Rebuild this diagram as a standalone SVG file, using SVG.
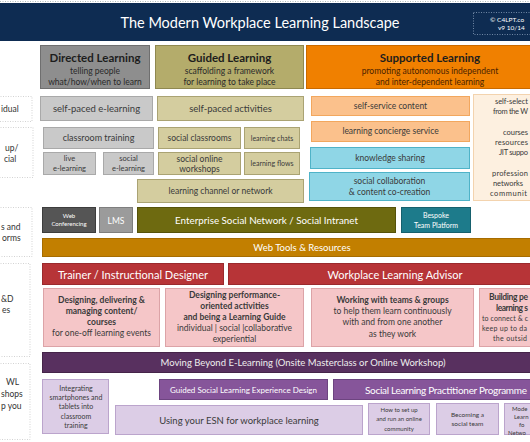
<svg xmlns="http://www.w3.org/2000/svg" width="530" height="442" viewBox="0 0 530 442">
<style>
text{font-family:Lato,"Liberation Sans",sans-serif;}
.lbl{fill:none;stroke:#c8c8c8;stroke-width:0.8;stroke-dasharray:1,1.5;}
.lt{font-size:8.5px;fill:#333;}
.gr{fill:#c9c9c9;stroke:#a9a9a9;stroke-width:1;}
.ol{fill:#d4cd9f;stroke:#aaa373;stroke-width:1;}
.or{fill:#fbc18c;stroke:#f2a75e;stroke-width:1;}
.bl{fill:#8fd6e6;stroke:#4fb3c8;stroke-width:1;}
.pk{fill:#f5c6c8;stroke:#dca3a7;stroke-width:1;}
.lp{fill:#dccde6;stroke:#bba4cc;stroke-width:1;}
.t{fill:#3a3a3a;text-anchor:middle;}
.w{fill:#fff;text-anchor:middle;}
.b{font-weight:bold;}
</style>
<rect width="530" height="442" fill="#fff"/>
<line x1="0" y1="1.5" x2="530" y2="1.5" stroke="#9aa" stroke-dasharray="1,1.5" stroke-width="0.8"/>
<g id="header">
<rect x="0" y="3" width="530" height="38" fill="#0e2c52"/>
<text x="260" y="28" class="w" style="font-size:14.5px">The Modern Workplace Learning Landscape</text>
<rect x="473.5" y="12.5" width="60" height="22" fill="none" stroke="#8aa0bb" stroke-width="0.8" stroke-dasharray="1,1.5"/>
<text x="490" y="22" style="font-size:6.5px;fill:#fff">© C4LPT.co</text>
<text x="498" y="30" style="font-size:6.5px;fill:#fff">v9 10/14</text>
</g>
<g id="col-directed">
<rect x="40.5" y="45.5" width="109" height="43" fill="#8e8e8e" stroke="#6f6f6f"/>
<text x="95" y="62" class="t b" style="font-size:11.5px;fill:#1d1d1d">Directed Learning</text>
<text x="95" y="74" class="t" style="font-size:8.5px;fill:#2a2a2a">telling people</text>
<text x="95" y="85" class="t" style="font-size:8.5px;fill:#2a2a2a">what/how/when to learn</text>
</g>
<g id="col-guided">
<rect x="155.5" y="45.5" width="148" height="43" fill="#b4ac6b" stroke="#8f8850"/>
<text x="229.5" y="62" class="t b" style="font-size:11.5px;fill:#1d1d1d">Guided Learning</text>
<text x="229.5" y="74" class="t" style="font-size:8.5px;fill:#2a2a2a">scaffolding a framework</text>
<text x="229.5" y="85" class="t" style="font-size:8.5px;fill:#2a2a2a">for learning to take place</text>
</g>
<g id="col-supported">
<rect x="306.5" y="45.5" width="230" height="43" fill="#f08000" stroke="#c96a00"/>
<text x="430" y="62" class="t b" style="font-size:11.5px;fill:#1d1d1d">Supported Learning</text>
<text x="430" y="74" class="t" style="font-size:8.5px;fill:#4a2200">promoting autonomous independent</text>
<text x="430" y="85" class="t" style="font-size:8.5px;fill:#4a2200">and inter-dependent learning</text>
</g>
<g id="row-labels">
<rect class="lbl" x="-2" y="96.5" width="34" height="25"/>
<text x="1" y="112" class="lt">idual</text>
<rect class="lbl" x="-2" y="127.5" width="35" height="50"/>
<text x="5" y="151" class="lt">up/</text>
<text x="4" y="162" class="lt">cial</text>
<rect class="lbl" x="-2" y="207.5" width="34" height="49"/>
<text x="1" y="230" class="lt">s and</text>
<text x="2" y="241" class="lt">orms</text>
<rect class="lbl" x="-2" y="263.5" width="32" height="93"/>
<text x="1" y="302" class="lt">&amp;D</text>
<text x="2" y="313" class="lt">es</text>
<rect class="lbl" x="-2" y="363.5" width="32" height="76"/>
<text x="6" y="385" class="lt">WL</text>
<text x="1" y="397" class="lt">shops</text>
<text x="1" y="409" class="lt">p you</text>
</g>
<g id="n-selfpaced-elearning"><rect class="gr" x="40.5" y="96.5" width="112" height="24"/><text x="96.5" y="112" class="t" style="font-size:9.5px">self-paced e-learning</text></g>
<g id="n-classroom"><rect class="gr" x="43.5" y="127.5" width="110" height="21"/><text x="98.5" y="141" class="t" style="font-size:9px">classroom training</text></g>
<g id="n-live"><rect class="gr" x="43.5" y="152.5" width="52" height="22"/><text x="69.5" y="161" class="t" style="font-size:7.5px">live</text><text x="69.5" y="171" class="t" style="font-size:7.5px">e-learning</text></g>
<g id="n-social-el"><rect class="gr" x="103.5" y="152.5" width="50" height="22"/><text x="128.5" y="161" class="t" style="font-size:7.5px">social</text><text x="128.5" y="171" class="t" style="font-size:7.5px">e-learning</text></g>
<g id="n-selfpaced-act"><rect class="ol" x="157.5" y="96.5" width="146" height="24"/><text x="230.5" y="112" class="t" style="font-size:9.5px">self-paced activities</text></g>
<g id="n-social-classrooms"><rect class="ol" x="158.5" y="127.5" width="82" height="21"/><text x="199.5" y="141" class="t" style="font-size:8.5px">social classrooms</text></g>
<g id="n-chats"><rect class="ol" x="244.5" y="127.5" width="55" height="21"/><text x="272" y="141" class="t" style="font-size:7px">learning chats</text></g>
<g id="n-workshops"><rect class="ol" x="158.5" y="152.5" width="82" height="22"/><text x="199.5" y="162" class="t" style="font-size:8.5px">social  online</text><text x="199.5" y="172" class="t" style="font-size:8.5px">workshops</text></g>
<g id="n-flows"><rect class="ol" x="244.5" y="152.5" width="55" height="22"/><text x="272" y="166" class="t" style="font-size:7px">learning flows</text></g>
<g id="n-channel"><rect class="ol" x="137.5" y="179.5" width="166" height="23"/><text x="220.5" y="194" class="t" style="font-size:8.5px">learning channel or network</text></g>
<g id="n-selfservice"><rect class="or" x="311.5" y="96.5" width="158" height="19"/><text x="390.5" y="109" class="t" style="font-size:8.5px">self-service content</text></g>
<g id="n-concierge"><rect class="or" x="311.5" y="121.5" width="158" height="20"/><text x="390.5" y="134" class="t" style="font-size:8.5px">learning concierge service</text></g>
<g id="n-knowledge"><rect class="bl" x="310.5" y="147.5" width="159" height="21"/><text x="390" y="161" class="t" style="font-size:8.5px">knowledge sharing</text></g>
<g id="n-collab"><rect class="bl" x="309.5" y="172.5" width="160" height="28"/><text x="389.5" y="184" class="t" style="font-size:8.5px">social collaboration</text><text x="389.5" y="195" class="t" style="font-size:8.5px">&amp; content co-creation</text></g>
<g id="n-selfselect">
<rect x="473.5" y="94.5" width="70" height="106" fill="#fdf0e0" stroke="#f3d3ae"/>
<g style="font-size:7.5px;fill:#3a3a3a">
<text x="495" y="104" textLength="33">self-select</text>
<text x="493" y="114" textLength="35">from the W</text>
<text x="503" y="135" textLength="25">courses</text>
<text x="495" y="145" textLength="33">resources</text>
<text x="499" y="155" textLength="29">JIT suppo</text>
<text x="492" y="176" textLength="36">profession</text>
<text x="493" y="186" textLength="30">networks</text>
<text x="490" y="196" textLength="37">communit</text>
</g>
</g>
<g id="n-webconf"><rect x="42.5" y="207.5" width="53" height="25" fill="#555" stroke="#3d3d3d"/><text x="69" y="218" class="w" style="font-size:6px">Web</text><text x="69" y="226" class="w" style="font-size:6px">Conferencing</text></g>
<g id="n-lms"><rect x="99.5" y="207.5" width="33" height="25" fill="#9b9b9b" stroke="#7e7e7e"/><text x="116" y="224" class="w" style="font-size:8.5px">LMS</text></g>
<g id="n-esn"><rect x="137.5" y="207.5" width="258" height="25" fill="#6e6a10" stroke="#55520a"/><text x="266.5" y="224" class="w" style="font-size:9.8px">Enterprise Social Network / Social Intranet</text></g>
<g id="n-bespoke"><rect x="401.5" y="207.5" width="69" height="25" fill="#1d7b8b" stroke="#16606d"/><text x="436" y="218" class="w" style="font-size:7px">Bespoke</text><text x="436" y="228" class="w" style="font-size:7px">Team Platform</text></g>
<g id="n-webtools"><rect x="42.5" y="238.5" width="492" height="18" fill="#c27f00" stroke="#a66c00"/><text x="302" y="251" class="w" style="font-size:9.5px">Web Tools &amp; Resources</text></g>
<g id="n-trainer"><rect x="42.5" y="263.5" width="181" height="21" fill="#b73437" stroke="#9a2a2d"/><text x="133" y="278.5" class="w" style="font-size:11px">Trainer / Instructional Designer</text></g>
<g id="n-advisor"><rect x="228.5" y="263.5" width="306" height="21" fill="#b73437" stroke="#9a2a2d"/><text x="395" y="278.5" class="w" style="font-size:11px">Workplace Learning Advisor</text></g>
<g id="n-designing"><rect class="pk" x="43.5" y="288.5" width="116" height="58"/>
<text x="101.5" y="303" class="t b" style="font-size:8.5px">Designing, delivering &amp;</text>
<text x="101.5" y="314" class="t b" style="font-size:8.5px">managing content/</text>
<text x="101.5" y="325" class="t b" style="font-size:8.5px">courses</text>
<text x="101.5" y="336" class="t" style="font-size:8.5px">for one-off learning events</text></g>
<g id="n-perf"><rect class="pk" x="165.5" y="288.5" width="138" height="58"/>
<text x="234.5" y="298" class="t b" style="font-size:8.5px">Designing performance-</text>
<text x="234.5" y="309" class="t b" style="font-size:8.5px">oriented activities</text>
<text x="234.5" y="320" class="t b" style="font-size:8.5px">and being a Learning Guide</text>
<text x="234.5" y="331" class="t" style="font-size:8.5px">individual | social |collaborative</text>
<text x="234.5" y="342" class="t" style="font-size:8.5px">experiential</text></g>
<g id="n-teams"><rect class="pk" x="311.5" y="288.5" width="162" height="58"/>
<text x="392.5" y="303" class="t b" style="font-size:8.5px">Working with teams &amp; groups</text>
<text x="392.5" y="314" class="t" style="font-size:8.5px">to help them learn continuously</text>
<text x="392.5" y="325" class="t" style="font-size:8.5px">with and from one another</text>
<text x="392.5" y="337" class="t" style="font-size:8.5px">as they work</text></g>
<g id="n-building"><rect class="pk" x="479.5" y="288.5" width="60" height="58"/>
<text x="489" y="300" class="b" style="font-size:8.5px;fill:#3a3a3a" textLength="39">Building pe</text>
<text x="496" y="311" class="b" style="font-size:8.5px;fill:#3a3a3a" textLength="32">learning s</text>
<text x="482" y="321" style="font-size:7px;fill:#3a3a3a" textLength="46">to connect &amp; c</text>
<text x="482" y="331" style="font-size:7px;fill:#3a3a3a" textLength="45">keep up to da</text>
<text x="493" y="341" style="font-size:7px;fill:#3a3a3a" textLength="34">the outsid</text></g>
<g id="n-moving"><rect x="42.5" y="352.5" width="492" height="20" fill="#58305f" stroke="#452449"/><text x="303" y="366" class="w" style="font-size:9.5px;fill:#eee">Moving Beyond E-Learning  (Onsite Masterclass or Online Workshop)</text></g>
<g id="n-integrating"><rect class="lp" x="42.5" y="379.5" width="66" height="54"/>
<g class="t" style="font-size:7px"><text x="76" y="391">Integrating</text><text x="76" y="400">smartphones and</text><text x="76" y="409">tablets into</text><text x="76" y="419">classroom</text><text x="76" y="428">training</text></g></g>
<g id="n-guided-design"><rect x="159.5" y="379.5" width="168" height="20" fill="#86559a" stroke="#6d4480"/><text x="243.5" y="392.5" class="w" style="font-size:8px">Guided Social Learning Experience Design</text></g>
<g id="n-practitioner"><rect x="333.5" y="379.5" width="201" height="20" fill="#86559a" stroke="#6d4480"/><text x="365" y="394" style="font-size:10px;fill:#fff" textLength="162">Social Learning Practitioner Programme</text></g>
<g id="n-esn-learning"><rect class="lp" x="115.5" y="405.5" width="247" height="29"/><text x="239" y="424" class="t" style="font-size:9.5px">Using your ESN for workplace learning</text></g>
<g id="n-howto"><rect class="lp" x="368.5" y="403.5" width="61" height="31"/>
<g class="t" style="font-size:6px"><text x="399" y="412">How to set up</text><text x="399" y="421">and run an online</text><text x="399" y="431">community</text></g></g>
<g id="n-becoming"><rect class="lp" x="436.5" y="403.5" width="62" height="31"/>
<g class="t" style="font-size:6.5px"><text x="467.5" y="417">Becoming a</text><text x="467.5" y="426">social team</text></g></g>
<g id="n-model"><rect class="lp" x="504.5" y="403.5" width="40" height="31"/>
<g style="font-size:6px;fill:#3a3a3a"><text x="512" y="411">Mode</text><text x="514" y="419">Learn</text><text x="519" y="427">fo</text><text x="508" y="435">Netwo</text></g></g>
<g id="connectors"></g>
</svg>
